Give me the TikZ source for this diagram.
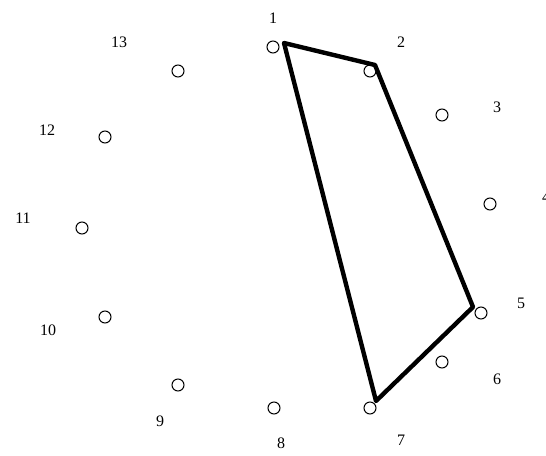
\documentclass[tikz,border=0pt]{standalone}
\usepackage{fontspec}
\setmainfont{Liberation Serif}
\begin{document}
\begin{tikzpicture}[x=1pt,y=-1pt,
  pt/.style={circle,draw,line width=1pt,minimum size=12pt,inner sep=0pt},
  lbl/.style={font=\fontsize{16}{16}\selectfont,inner sep=0pt},
  edge/.style={line width=4.4pt,line join=round,line cap=round}]
\useasboundingbox[fill=white] (0,0) rectangle (546,455);
\foreach \i/\x/\y in {1/273/47,2/370/71,3/442/115,4/490/204,5/481/313,6/442/362,7/370/408,8/274/408,9/178/385,10/105/317,11/82/228,12/105/137,13/178/71}
  \node[pt] (c\i) at (\x,\y) {};
\foreach \i/\x/\y in {1/273/18,2/401/42,3/497/107,4/546/197,5/521/303,6/497/379,7/401/440,8/281/443,9/160/421,10/48/330,11/23/218,12/47/130,13/119/42}
  \node[lbl] (l\i) at (\x,\y) {\i};
\coordinate (v1) at (284,43);
\coordinate (v2) at (375,65);
\coordinate (v5) at (473,307);
\coordinate (v7) at (376,401);
\draw[edge] (v1) -- (v2) -- (v5) -- (v7) -- cycle;
\end{tikzpicture}
\end{document}
